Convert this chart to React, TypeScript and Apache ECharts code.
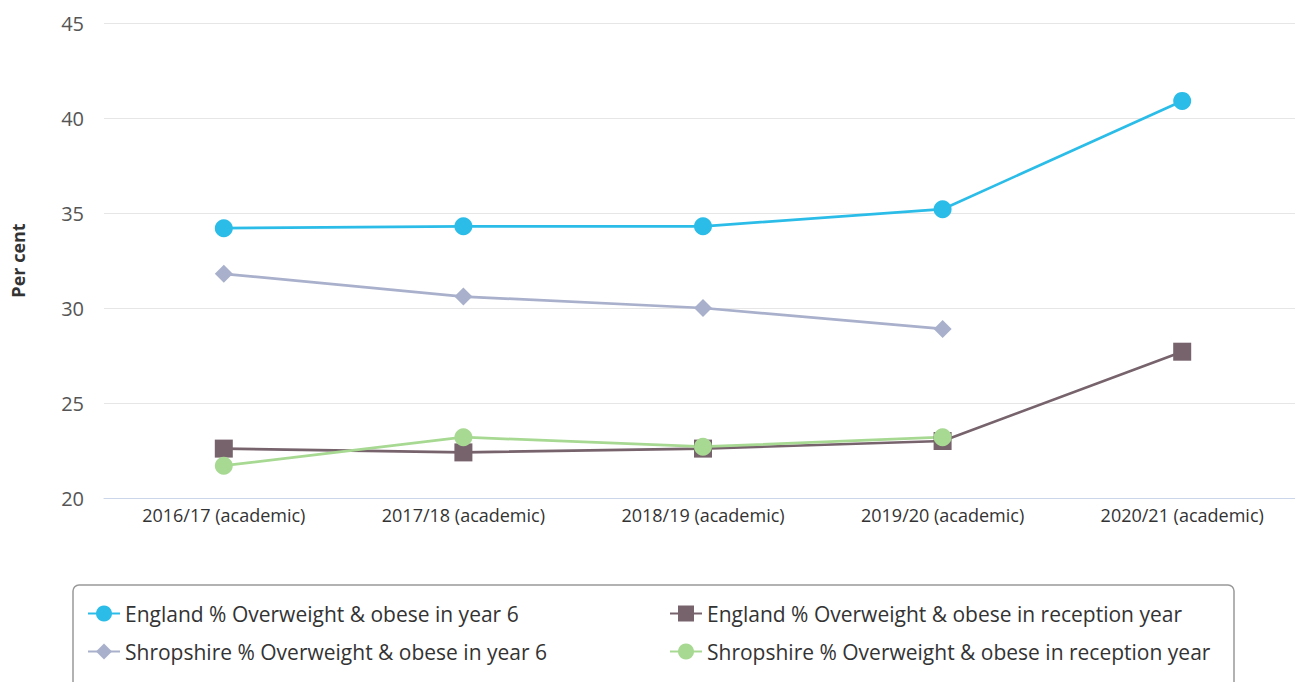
import React, { useEffect, useRef } from "react";
import * as echarts from "echarts";

const categories = [
  "2016/17 (academic)",
  "2017/18 (academic)",
  "2018/19 (academic)",
  "2019/20 (academic)",
  "2020/21 (academic)",
];
const englandYear6 = [34.2, 34.3, 34.3, 35.2, 40.9];
const englandReception = [22.6, 22.4, 22.6, 23.0, 27.7];
const shropshireYear6 = [31.8, 30.6, 30.0, 28.9, null];
const shropshireReception = [21.7, 23.2, 22.7, 23.2, null];

const N1 = "England % Overweight & obese in year 6";
const N2 = "England % Overweight & obese in reception year";
const N3 = "Shropshire % Overweight & obese in year 6";
const N4 = "Shropshire % Overweight & obese in reception year";

const FONT = "'Open Sans', 'Noto Sans', sans-serif";

export default function App() {
  const ref = useRef<HTMLDivElement>(null);
  useEffect(() => {
    if (!ref.current) return;
    const chart = echarts.init(ref.current, undefined, { renderer: "svg" });
    const mk = (name: string, data: any[], color: string, symbol: string, size: number) => ({
      name,
      type: "line",
      data,
      symbol,
      symbolSize: size,
      showAllSymbol: true,
      connectNulls: false,
      lineStyle: { color, width: 2.7 },
      itemStyle: { color },
    });
    const legendCommon = {
      orient: "vertical",
      top: 598,
      itemGap: 17,
      itemWidth: 32,
      itemHeight: 20,
      textStyle: { fontSize: 21, color: "#333", fontFamily: FONT },
    };
    chart.setOption({
      animation: false,
      textStyle: { fontFamily: FONT },
      grid: { left: 104, top: 23, width: 1198, height: 475, containLabel: false },
      xAxis: {
        type: "category",
        data: categories,
        boundaryGap: true,
        axisLine: { lineStyle: { color: "#ccd6eb", width: 1 } },
        axisTick: { show: false },
        axisLabel: { color: "#333", fontSize: 18, margin: 8, fontFamily: FONT },
        splitLine: { show: false },
      },
      yAxis: {
        type: "value",
        min: 20,
        max: 45,
        interval: 5,
        name: "Per cent",
        nameLocation: "middle",
        nameGap: 77,
        nameTextStyle: { fontWeight: "bold", fontSize: 18, color: "#333", fontFamily: FONT },
        axisLine: { show: false },
        axisTick: { show: false },
        axisLabel: { color: "#555", fontSize: 20, margin: 20, fontFamily: FONT },
        splitLine: { lineStyle: { color: "#e6e6e6", width: 1 } },
      },
      legend: [
        { ...legendCommon, data: [N1, N3], left: 82 },
        { ...legendCommon, data: [N2, N4], left: 664 },
      ],
      graphic: [
        {
          type: "rect",
          shape: { x: 73, y: 585, width: 1161, height: 120, r: 6 },
          style: { fill: "none", stroke: "#999", lineWidth: 1.5 },
          z: -1,
        },
      ],
      series: [
        mk(N1, englandYear6, "#2bbde8", "circle", 18),
        mk(N2, englandReception, "#77636c", "rect", 18),
        mk(N3, shropshireYear6, "#a9b0cb", "diamond", 18),
        mk(N4, shropshireReception, "#a8d993", "circle", 18),
      ],
    });
    return () => chart.dispose();
  }, []);
  return (
    <div style={{ width: 1295, height: 682, position: "absolute", left: 0, top: 0, overflow: "hidden" }}>
      <div ref={ref} style={{ width: 1310, height: 682 }} />
    </div>
  );
}
